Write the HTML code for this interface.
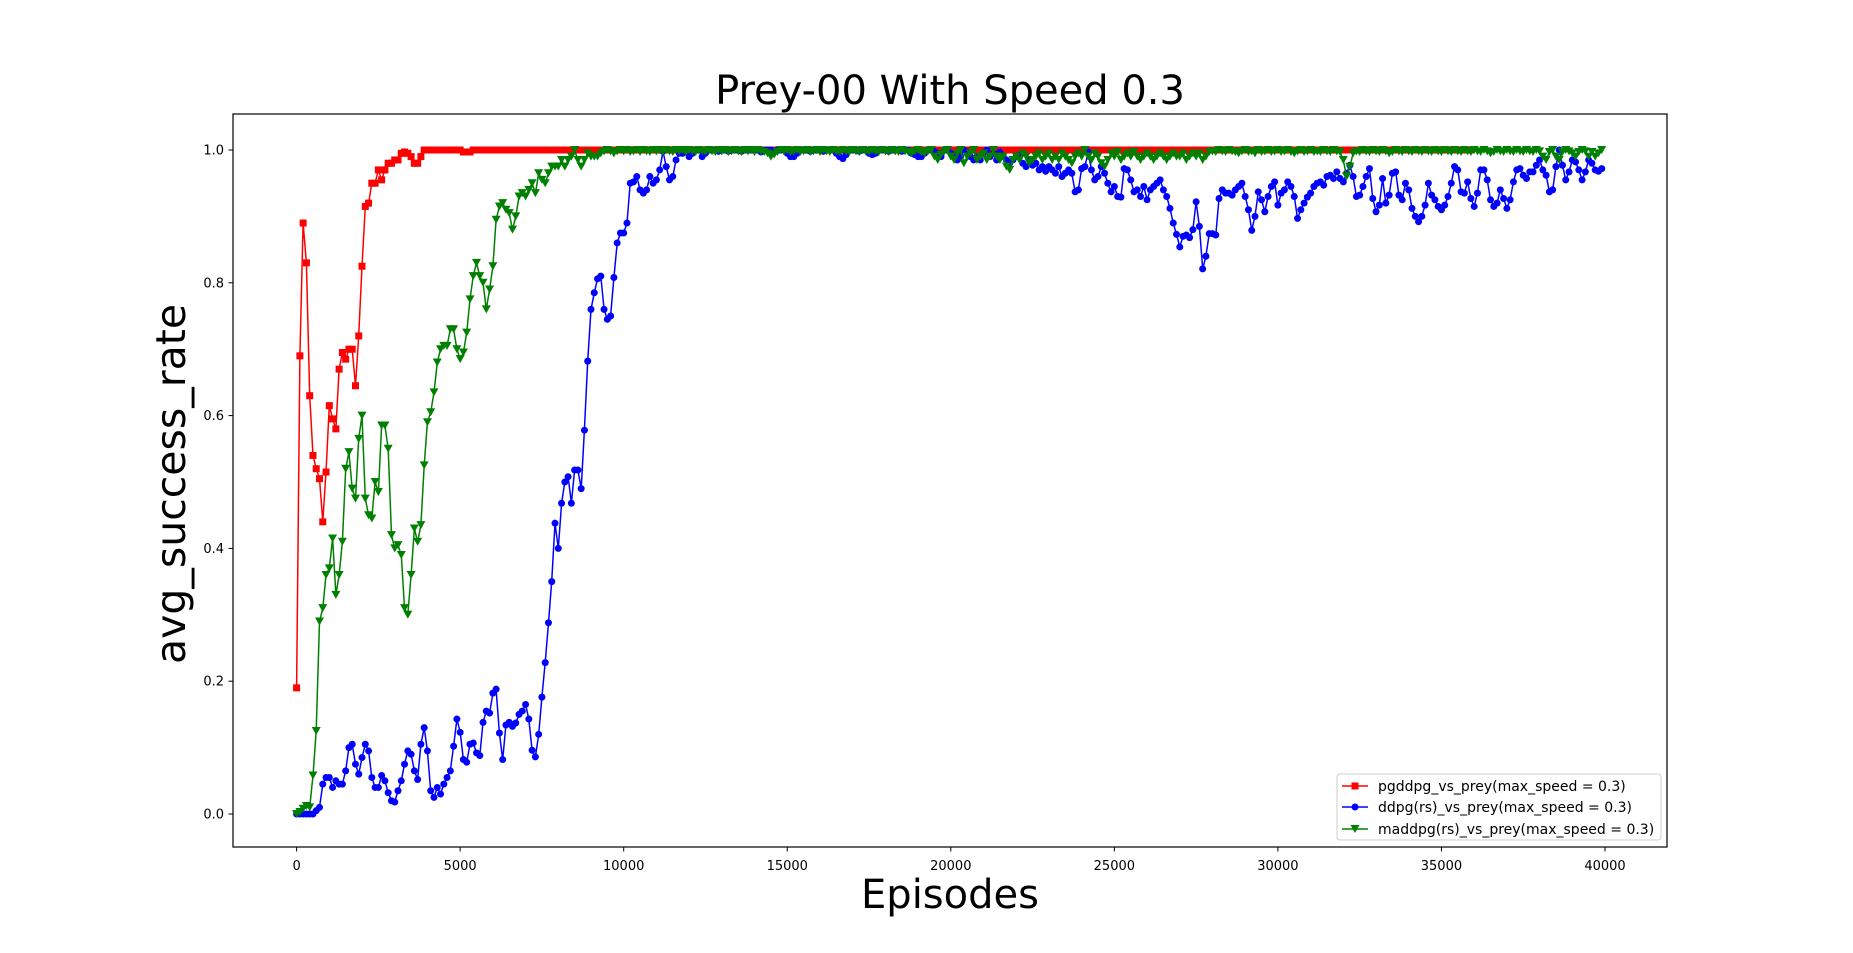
<!DOCTYPE html>
<html><head><meta charset="utf-8"><title>Prey-00 With Speed 0.3</title>
<style>
html,body{margin:0;padding:0;background:#fff;}
svg{display:block;font-family:"DejaVu Sans","Liberation Sans",sans-serif;}
</style></head>
<body>
<svg id="chart" width="1853" height="953" viewBox="0 0 1853 953" xmlns="http://www.w3.org/2000/svg">
<rect x="0" y="0" width="1853" height="953" fill="#fff"/>
<text x="950" y="104" font-size="40" text-anchor="middle" fill="#000">Prey-00 With Speed 0.3</text>
<text x="950" y="908" font-size="40" text-anchor="middle" fill="#000">Episodes</text>
<text x="0" y="0" font-size="41" text-anchor="middle" fill="#000" transform="translate(185,484) rotate(-90)">avg_success_rate</text>
<g id="grid"></g>
<g id="series"></g>
<rect x="233" y="114" width="1434" height="733" fill="none" stroke="#000" stroke-width="1.2"/>
<g id="legend">
<rect x="1337" y="774" width="324" height="66" rx="3" fill="#fff" fill-opacity="0.85" stroke="#ccc"/>
<g>
<line x1="1342" y1="786" x2="1368" y2="786" stroke="#ff0000" stroke-width="1.5"/>
<rect x="1351.5" y="782.5" width="7" height="7" fill="#ff0000"/>
<text x="1378" y="791" font-size="14">pgddpg_vs_prey(max_speed = 0.3)</text>
</g>
<g>
<line x1="1342" y1="807" x2="1368" y2="807" stroke="#0000ff" stroke-width="1.5"/>
<circle cx="1355" cy="807" r="3.5" fill="#0000ff"/>
<text x="1378" y="812" font-size="14">ddpg(rs)_vs_prey(max_speed = 0.3)</text>
</g>
<g>
<line x1="1342" y1="829" x2="1368" y2="829" stroke="#008000" stroke-width="1.5"/>
<path d="M1350.5,825 L1359.5,825 L1355,833 Z" fill="#008000"/>
<text x="1378" y="834" font-size="14">maddpg(rs)_vs_prey(max_speed = 0.3)</text>
</g>
</g>
</svg>
<script>
const xTicks=[0,5000,10000,15000,20000,25000,30000,35000,40000];
const yTicks=[0.0,0.2,0.4,0.6,0.8,1.0];
const yTickLabels=["0.0","0.2","0.4","0.6","0.8","1.0"];
const episodeStep=100;
const pgddpgValues=[0.19,0.69,0.89,0.83,0.63,0.54,0.52,0.505,0.44,0.515,
0.615,0.595,0.58,0.67,0.695,0.685,0.70,0.70,0.645,0.72,
0.825,0.915,0.92,0.95,0.95,0.97,0.955,0.97,0.98,0.98,
0.985,0.985,0.995,0.997,0.995,0.99,0.98,0.98,0.99,1.0,
1,1,1,1,1,1,1,1,1,1, 1,0.997,0.997,0.997,1,1,1,1,1,1,
1,1,1,1,1,1,1,1,1,1, 1,1,1,1,1,1,1,1,1,1, 1,1,1,1,1,1,1,1,1,1, 1,1,1,1,1,1,1,1,1,1,
1,1,1,1,1,1,1,1,1,1, 1,1,1,1,1,1,1,1,1,1, 1,1,1,1,1,1,1,1,1,1, 1,1,1,1,1,1,1,1,1,1,
1,1,1,1,1,1,1,1,1,1, 1,1,1,1,1,1,1,1,1,1, 1,1,1,1,1,1,1,1,1,1, 1,1,1,1,1,1,1,1,1,1,
1,1,1,1,1,1,1,1,1,1, 1,1,1,1,1,1,1,1,1,1, 1,1,1,1,1,1,1,1,1,1, 1,1,1,1,1,1,1,1,1,1,
1,1,1,1,1,1,1,1,1,1, 1,1,1,1,1,1,1,1,1,1, 1,1,1,1,1,1,1,1,1,1, 1,1,1,1,1,1,1,1,1,1,
1,1,1,1,1,1,1,1,1,1, 1,1,1,1,1,1,1,1,1,1, 1,1,1,1,1,1,1,1,1,1, 1,1,1,1,1,1,1,1,1,1,
1,1,1,1,1,1,1,1,1,1, 1,1,1,1,1,1,1,1,1,1, 1,1,1,1,1,1,1,1,1,1, 1,1,1,1,1,1,1,1,1,1,
1,1,1,1,1,1,1,1,1,1, 1,1,1,1,1,1,1,1,1,1];
const ddpgValues=[0,0,0,0,0,0,0.005,0.01,0.045,0.055,
0.055,0.04,0.05,0.045,0.045,0.065,0.1,0.105,0.075,0.06,
0.085,0.105,0.095,0.055,0.04,0.04,0.058,0.05,0.032,0.02,
0.018,0.035,0.05,0.075,0.095,0.09,0.065,0.052,0.105,0.13,
0.095,0.035,0.025,0.04,0.03,0.045,0.055,0.065,0.102,0.143,
0.123,0.082,0.078,0.105,0.107,0.092,0.088,0.138,0.155,0.152,
0.182,0.188,0.122,0.082,0.134,0.138,0.132,0.137,0.15,0.155,
0.165,0.143,0.096,0.086,0.12,0.176,0.228,0.288,0.35,0.438,
0.4,0.468,0.5,0.508,0.468,0.518,0.518,0.49,0.578,0.682,
0.76,0.785,0.806,0.81,0.76,0.745,0.75,0.808,0.86,0.875,
0.875,0.89,0.95,0.952,0.96,0.94,0.935,0.94,0.96,0.95,
0.955,0.97,0.998,0.975,0.955,0.96,0.985,0.995,0.995,1.0,
0.99,0.995,1,1,0.99,0.995,1,1,1,0.998,
1,1,0.998,1,1,1,0.998,1,1,1,
1,1,0.997,1,1,1,0.998,1,1,1,
0.995,0.99,0.99,0.995,1,1,1,0.998,1,1,
1,0.998,1,1,1,0.995,0.99,0.987,0.993,1,
1,1,0.998,1,1,0.995,0.993,0.995,1,1,
1,0.998,1,1,1,0.998,1,1,0.995,0.993,
0.99,0.99,0.995,1,1,0.998,0.995,0.99,1,1,
0.995,0.99,0.985,0.99,1,0.997,0.99,0.985,0.99,0.985,
0.995,1,0.99,0.995,0.985,0.997,0.99,0.985,0.98,0.985,
0.99,0.992,0.98,0.975,0.985,0.977,0.98,0.97,0.975,0.968,
0.975,0.97,0.965,0.975,0.96,0.965,0.97,0.965,0.937,0.94,
0.972,0.975,0.997,0.97,0.955,0.96,0.975,0.965,0.95,0.937,
0.945,0.93,0.929,0.972,0.97,0.955,0.937,0.94,0.93,0.945,
0.925,0.94,0.945,0.95,0.955,0.94,0.93,0.912,0.89,0.873,
0.854,0.87,0.872,0.868,0.88,0.922,0.885,0.821,0.84,0.874,
0.874,0.872,0.927,0.94,0.935,0.935,0.932,0.94,0.945,0.95,
0.93,0.91,0.879,0.9,0.937,0.925,0.907,0.93,0.945,0.952,
0.917,0.935,0.94,0.952,0.945,0.93,0.897,0.91,0.92,0.929,
0.935,0.945,0.95,0.952,0.947,0.96,0.962,0.957,0.967,0.957,
0.952,0.965,0.977,0.96,0.93,0.932,0.945,0.96,0.972,0.927,
0.907,0.917,0.957,0.92,0.932,0.965,0.967,0.932,0.925,0.95,
0.94,0.912,0.9,0.892,0.9,0.917,0.95,0.932,0.925,0.915,
0.91,0.917,0.93,0.95,0.975,0.97,0.937,0.935,0.952,0.927,
0.915,0.935,0.97,0.97,0.955,0.925,0.915,0.92,0.94,0.927,
0.912,0.925,0.952,0.97,0.972,0.962,0.957,0.967,0.967,0.977,
0.985,0.97,0.962,0.937,0.94,0.975,1.0,0.977,0.955,0.967,
0.985,0.982,0.97,0.955,0.967,0.985,0.98,0.97,0.968,0.972];
const maddpgValues=[0,0.003,0.008,0.012,0.01,0.058,0.125,0.29,0.31,0.36,
0.37,0.415,0.33,0.36,0.41,0.52,0.545,0.49,0.475,0.565,
0.6,0.475,0.45,0.445,0.5,0.485,0.585,0.585,0.55,0.42,
0.40,0.405,0.39,0.31,0.30,0.36,0.43,0.41,0.435,0.525,
0.59,0.605,0.635,0.68,0.7,0.705,0.705,0.73,0.73,0.7,
0.685,0.695,0.725,0.775,0.81,0.83,0.81,0.8,0.76,0.79,
0.825,0.895,0.915,0.92,0.91,0.905,0.88,0.9,0.93,0.935,
0.93,0.94,0.95,0.935,0.965,0.955,0.95,0.965,0.975,0.975,
0.975,0.985,0.975,0.985,0.99,1.0,0.985,0.975,0.985,0.995,
0.99,0.99,0.99,0.995,0.998,1,0.998,0.995,0.998,1,
0.998,1,0.997,0.998,1,0.997,1,0.998,0.997,1,
0.998,1,0.997,1,0.998,0.997,1,0.998,1,0.997,
1,0.998,0.997,1,0.998,0.997,1,0.998,0.997,1,
0.998,1,0.997,0.998,1,0.998,0.997,1,0.998,1,
0.997,1,0.998,0.997,0.995,0.99,0.993,0.997,1,0.998,
1,0.997,0.998,1,0.997,0.998,1,0.997,0.998,1,
0.997,1,0.998,0.997,1,0.998,0.997,1,0.998,0.997,
1,0.998,0.997,1,0.998,0.997,1,0.998,0.997,1,
0.998,0.997,1,0.998,0.997,1,0.998,0.997,0.995,0.998,
1,0.997,0.995,0.998,1,0.99,0.985,0.993,0.998,1,
0.99,0.985,0.995,1,0.98,0.99,0.995,1,0.985,0.99,
0.995,0.985,0.99,1,0.99,0.985,0.99,0.975,0.97,0.985,
0.99,0.985,0.995,0.99,0.98,0.985,0.99,0.995,0.985,0.99,
0.995,0.985,0.99,0.985,0.995,0.99,0.985,0.98,0.99,0.995,
0.99,1.0,0.99,0.985,0.995,0.99,0.98,0.975,0.985,0.995,
0.99,0.997,0.985,0.99,0.995,0.99,0.997,0.99,0.985,0.99,
0.995,0.99,0.985,0.99,0.995,0.99,0.985,0.99,0.995,0.99,
0.99,0.995,0.985,0.99,0.995,0.99,0.995,0.985,0.99,0.997,
0.998,0.997,1,0.998,0.997,1,0.998,0.997,0.995,0.998,
1,0.997,0.998,0.995,1,0.997,0.998,1,0.997,0.998,
1,0.997,0.998,1,0.997,0.995,0.998,1,0.997,0.998,
1,0.997,0.998,0.997,1,0.998,0.997,1,0.998,0.997,
0.985,0.96,0.975,0.995,0.998,0.997,1,0.998,0.997,1,
0.998,0.997,1,0.998,0.995,0.997,1,0.998,0.997,1,
0.998,0.997,1,0.998,0.997,1,0.998,0.997,1,0.998,
0.997,1,0.998,0.997,1,0.998,0.997,1,0.998,0.997,
1,0.998,0.997,1,0.998,0.995,0.997,1,0.998,0.997,
1,0.998,0.997,1,0.998,0.997,1,0.998,0.997,1,
0.998,0.99,0.985,0.997,1,0.99,0.985,0.997,1,0.998,
0.995,0.99,0.997,1,0.998,0.99,0.997,0.99,0.995,1];

const NS="http://www.w3.org/2000/svg";
const X0=296.6, XPX=(1605-296.6)/40000, Y0=814, YPX=664;
function xs(v){return X0+v*XPX;}
function ys(v){return Y0-v*YPX;}
function mk(tag,attrs,parent){const e=document.createElementNS(NS,tag);for(const k in attrs)e.setAttribute(k,attrs[k]);parent.appendChild(e);return e;}
const grid=document.getElementById('grid');
const ser=document.getElementById('series');
xTicks.forEach(t=>{
  const g=mk('g',{},grid);
  
  
  mk('line',{x1:xs(t),x2:xs(t),y1:847,y2:851.5,stroke:'#000','stroke-width':1},g);
  const tx=mk('text',{x:xs(t),y:870,'font-size':13,'text-anchor':'middle'},g);
  tx.textContent=String(t);
});
yTicks.forEach((t,i)=>{
  const g=mk('g',{},grid);
  
  
  mk('line',{x1:228.5,x2:233,y1:ys(t),y2:ys(t),stroke:'#000','stroke-width':1},g);
  const tx=mk('text',{x:224,y:ys(t)+4.5,'font-size':13,'text-anchor':'end'},g);
  tx.textContent=yTickLabels[i];
});
function drawSeries(vals,color,marker,name){
  const g=mk('g',{},ser);
  
  
  const pts=vals.map((v,i)=>xs(i*episodeStep).toFixed(1)+','+ys(v).toFixed(1)).join(' ');
  mk('polyline',{points:pts,fill:'none',stroke:color,'stroke-width':1.5,'stroke-linejoin':'round'},g);
  vals.forEach((v,i)=>{
    const x=xs(i*episodeStep), y=ys(v);
    let m;
    if(marker==='s') m=mk('rect',{x:x-3.5,y:y-3.5,width:7,height:7,fill:color},g);
    else if(marker==='o') m=mk('circle',{cx:x,cy:y,r:3.5,fill:color},g);
    else m=mk('path',{d:`M${x-4.5},${y-4} L${x+4.5},${y-4} L${x},${y+4} Z`,fill:color},g);
    
    
  });
}
drawSeries(pgddpgValues,'#ff0000','s','series-pgddpg');
drawSeries(ddpgValues,'#0000ff','o','series-ddpg');
drawSeries(maddpgValues,'#008000','v','series-maddpg');
</script>
</body></html>
